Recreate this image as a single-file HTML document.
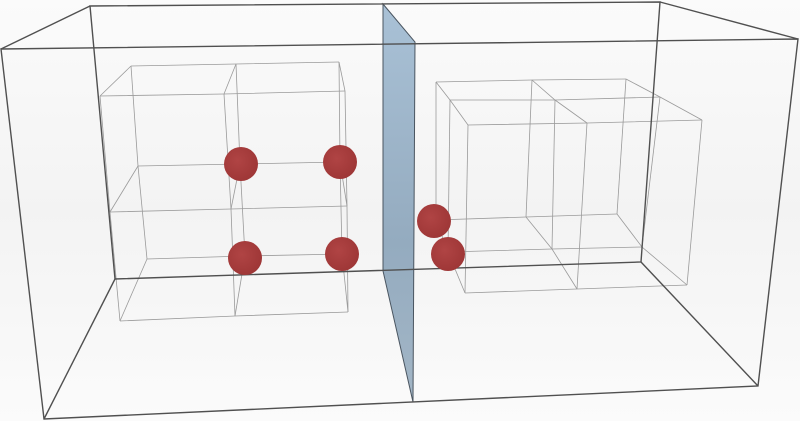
<!DOCTYPE html>
<html><head><meta charset="utf-8"><style>html,body{margin:0;padding:0;background:#fafafa}svg{display:block}</style></head><body>
<svg width="800" height="421" viewBox="0 0 800 421" xmlns="http://www.w3.org/2000/svg">
<defs>
<linearGradient id="bg" x1="0" y1="0" x2="0" y2="1"><stop offset="0" stop-color="#fbfbfb"/><stop offset="0.5" stop-color="#f3f3f3"/><stop offset="1" stop-color="#fbfbfb"/></linearGradient>
<linearGradient id="pn" x1="0" y1="0" x2="0" y2="1"><stop offset="0" stop-color="#a9c1d6"/><stop offset="0.6" stop-color="#94abbf"/><stop offset="1" stop-color="#a3b6c6"/></linearGradient>
<radialGradient id="sp" cx="0.4" cy="0.4" r="0.7"><stop offset="0" stop-color="#b04444"/><stop offset="1" stop-color="#9c3535"/></radialGradient>
</defs>
<rect width="800" height="421" fill="url(#bg)"/>
<polygon points="383,4 415,42 413,402 383,271" fill="url(#pn)" stroke="#4a5560" stroke-width="1"/>
<g stroke="#9a9a9a" stroke-width="0.8" fill="none">
<!-- left inner -->
<polyline points="131,66 236,64 339,62"/><polyline points="138,166 240,164 340,162"/><polyline points="147,259 245,256 342,254"/>
<polyline points="131,66 138,166 147,259"/><polyline points="236,64 240,164 245,256"/><polyline points="339,62 340,162 342,254"/>
<polyline points="100,96 224,94 345,91"/><polyline points="110,212 231,209 347,206"/><polyline points="120,321 235,316 348,312"/>
<polyline points="100,96 110,212 120,321"/><polyline points="224,94 231,209 235,316"/><polyline points="345,91 347,206 348,312"/>
<line x1="100" y1="96" x2="131" y2="66"/><line x1="224" y1="94" x2="236" y2="64"/><line x1="345" y1="91" x2="339" y2="62"/>
<line x1="110" y1="212" x2="138" y2="166"/><line x1="231" y1="209" x2="240" y2="164"/><line x1="347" y1="206" x2="340" y2="162"/>
<line x1="120" y1="321" x2="147" y2="259"/><line x1="235" y1="316" x2="245" y2="256"/><line x1="348" y1="312" x2="342" y2="254"/>
<!-- right inner -->
<polyline points="436,82 532,80 626,79"/><polyline points="436,220 526,217 617,214"/>
<line x1="436" y1="82" x2="436" y2="220"/><line x1="532" y1="80" x2="526" y2="217"/><line x1="626" y1="79" x2="617" y2="214"/>
<polyline points="450,100 555,100 660,97"/><polyline points="448,252 552,249 642,247"/>
<line x1="450" y1="100" x2="448" y2="252"/><line x1="555" y1="100" x2="552" y2="249"/><line x1="660" y1="97" x2="642" y2="247"/>
<polyline points="468,125 587,123 702,120"/><polyline points="465,293 577,289 687,285"/>
<line x1="468" y1="125" x2="465" y2="293"/><line x1="587" y1="123" x2="577" y2="289"/><line x1="702" y1="120" x2="687" y2="285"/>
<polyline points="436,82 450,100 468,125"/><polyline points="532,80 555,100 587,123"/><polyline points="626,79 660,97 702,120"/>
<polyline points="436,220 448,252 465,293"/><polyline points="526,217 552,249 577,289"/><polyline points="617,214 642,247 687,285"/>
</g>
<g stroke="#505050" stroke-width="1.4" fill="none">
<polygon points="90,6 660,2 641,262 115,279"/>
<polygon points="1,49 798,39 758,386 44,419"/>
<line x1="90" y1="6" x2="1" y2="49"/><line x1="660" y1="2" x2="798" y2="39"/>
<line x1="115" y1="279" x2="44" y2="419"/><line x1="641" y1="262" x2="758" y2="386"/>
</g>
<g fill="url(#sp)">
<circle cx="241" cy="164" r="17"/><circle cx="340" cy="162" r="17"/>
<circle cx="245" cy="258" r="17"/><circle cx="342" cy="254" r="17"/>
<circle cx="434" cy="221" r="17"/><circle cx="448" cy="254" r="17"/>
</g>
</svg>
</body></html>
